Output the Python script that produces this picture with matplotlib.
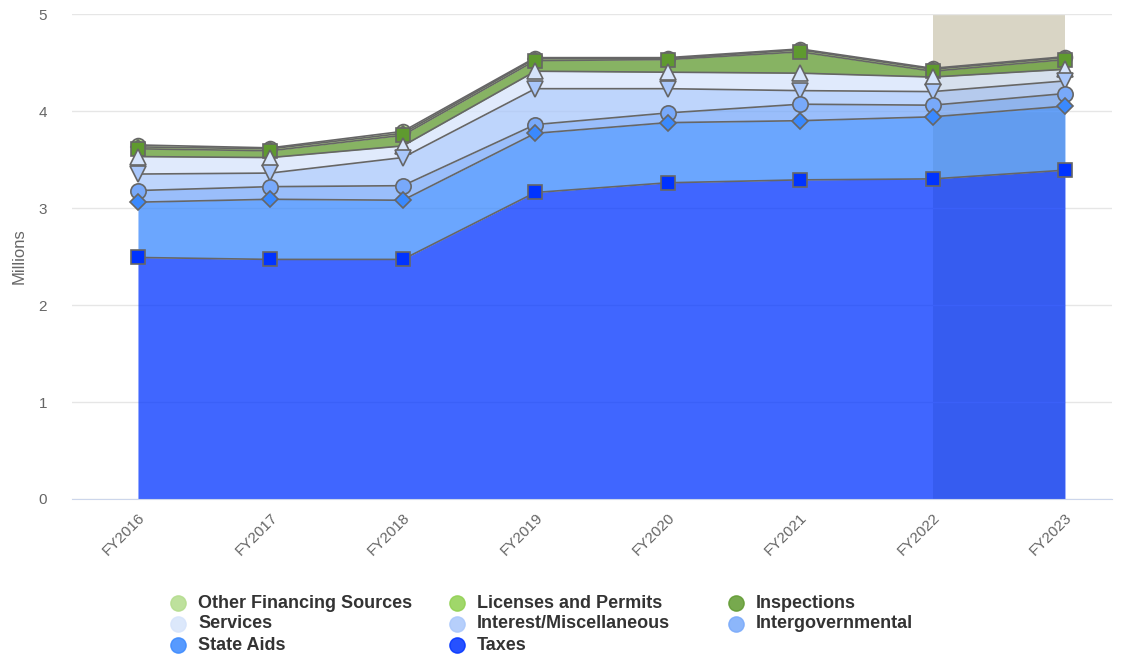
import numpy as np
import matplotlib.pyplot as plt
from matplotlib.lines import Line2D

plt.rcParams['font.family'] = ['Liberation Sans', 'DejaVu Sans']

years = ["FY2016", "FY2017", "FY2018", "FY2019", "FY2020", "FY2021", "FY2022", "FY2023"]

# bottom of stack first
taxes = [2.49, 2.47, 2.47, 3.16, 3.26, 3.29, 3.30, 3.39]
state_aids = [0.57, 0.62, 0.61, 0.61, 0.62, 0.61, 0.64, 0.66]
intergov = [0.12, 0.13, 0.15, 0.09, 0.10, 0.17, 0.12, 0.13]
interest = [0.17, 0.14, 0.29, 0.37, 0.25, 0.14, 0.14, 0.13]
services = [0.18, 0.16, 0.12, 0.18, 0.17, 0.18, 0.15, 0.12]
inspections = [0.08, 0.07, 0.11, 0.11, 0.13, 0.22, 0.06, 0.10]
licenses = [0.02, 0.02, 0.02, 0.02, 0.01, 0.02, 0.02, 0.02]
other_fin = [0.02, 0.01, 0.02, 0.01, 0.01, 0.01, 0.01, 0.01]

names = ["Taxes", "State Aids", "Intergovernmental", "Interest/Miscellaneous",
         "Services", "Inspections", "Licenses and Permits", "Other Financing Sources"]
series = [taxes, state_aids, intergov, interest, services, inspections, licenses, other_fin]
colors = ["#0033ff", "#3a89fe", "#78a9fa", "#a9c7fb", "#d6e4fb", "#5f9a2f", "#90d050", "#b3dc8c"]
markers = ["s", "D", "o", "v", "^", "s", "D", "o"]
msizes = [10.5, 8, 11, 11, 11, 10.5, 7.5, 10]

W, H = 1124, 659
fig = plt.figure(figsize=(W / 100, H / 100), dpi=100)
ax = fig.add_axes([72 / W, 1 - 499 / H, 1040 / W, 485 / H])

x = np.arange(len(years))
ax.axvspan(6, 7, color="#d9d5c5", zorder=0, lw=0)

bottom = np.zeros(len(years))
tops = []
for vals, c in zip(series, colors):
    top = bottom + np.array(vals)
    ax.fill_between(x, bottom, top, color=c, alpha=0.75, lw=0, zorder=1)
    tops.append(top)
    bottom = top

# lines + markers, top series drawn first
for i in range(len(series) - 1, -1, -1):
    ax.plot(x, tops[i], color="#666666", lw=1.2, marker=markers[i], ms=msizes[i],
            mfc=colors[i], mec="#666666", mew=1.2, zorder=3)

ax.set_xlim(-0.498, 7.355)
ax.set_ylim(0, 5)
ax.set_yticks([0, 1, 2, 3, 4, 5])
ax.grid(axis="y", color="#e6e6e6", lw=1, zorder=0)
ax.set_axisbelow(True)
for s in ["top", "right", "left"]:
    ax.spines[s].set_visible(False)
ax.spines["bottom"].set_color("#ccd6eb")
ax.tick_params(axis="y", length=0, labelsize=11, colors="#666666", pad=18)
ax.tick_params(axis="x", length=0, labelsize=11, colors="#666666", pad=8)
ax.set_xticks(x)
ax.set_xticklabels(years, rotation=45, ha="right", rotation_mode="anchor")
ax.set_ylabel("Millions", fontsize=12, color="#666666", labelpad=8.5)

# legend laid out row by row, 3 per row
order = [7, 6, 5, 4, 3, 2, 1, 0]
for k, i in enumerate(order):
    col, row = k % 3, k // 3
    px = 178 + 279 * col
    py = 603 + 21 * row
    fig.add_artist(Line2D([px / W], [1 - py / H], ls="", marker="o", ms=11,
                          mfc=colors[i], mec=colors[i], alpha=0.85,
                          transform=fig.transFigure))
    fig.text((px + 20) / W, 1 - py / H, names[i], fontsize=13, fontweight="bold",
             color="#333333", va="center", ha="left")

fig.savefig("out.png", dpi=100)
